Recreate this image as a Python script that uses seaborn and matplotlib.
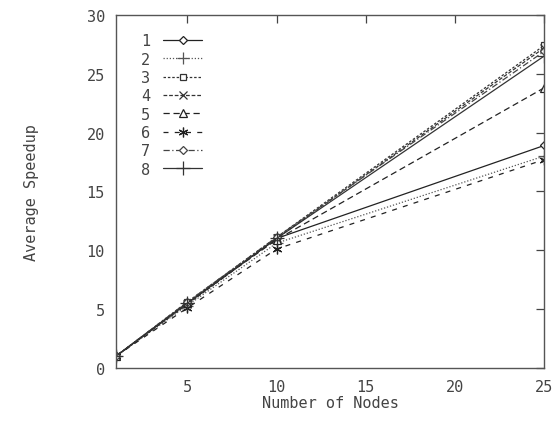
import matplotlib
matplotlib.use("Agg")
import matplotlib.pyplot as plt
import seaborn as sns
import pandas as pd

nodes = [1, 5, 10, 25]
s1 = [1, 5.5, 11.0, 18.9]
s2 = [1, 5.3, 10.6, 18.0]
s3 = [1, 5.6, 11.1, 27.4]
s4 = [1, 5.4, 11.0, 27.2]
s5 = [1, 5.5, 10.9, 23.8]
s6 = [1, 5.1, 10.1, 17.7]
s7 = [1, 5.6, 11.1, 26.9]
s8 = [1, 5.5, 11.0, 26.5]
series = [s1, s2, s3, s4, s5, s6, s7, s8]
labels = ["1", "2", "3", "4", "5", "6", "7", "8"]
xticks = [5, 10, 15, 20, 25]
yticks = [0, 5, 10, 15, 20, 25, 30]

sns.set_style("white")
plt.rcParams['font.family'] = ['DejaVu Sans Mono']

styles = [
    dict(ls='-', marker='D', ms=4, mfc='white', color='#222222'),
    dict(ls=(0, (1, 1.5)), marker='+', ms=8, color='#555555'),
    dict(ls=(0, (2, 1.5)), marker='s', ms=5, mfc='white', color='#333333'),
    dict(ls=(0, (3, 1.5)), marker='x', ms=6, color='#333333'),
    dict(ls=(0, (5, 3)), marker='^', ms=6, mfc='white', color='#222222'),
    dict(ls=(0, (4, 5)), marker=(6, 2, 0), ms=7, color='#222222'),
    dict(ls=(0, (5, 2, 1, 2)), marker='D', ms=4, mfc='white', color='#444444'),
    dict(ls='-', marker='+', ms=10, color='#333333'),
]

fig = plt.figure(figsize=(5.52, 4.27), dpi=100)
ax = fig.add_axes([0.210, 0.136, 0.776, 0.827])

for vals, lab, st in zip(series, labels, styles):
    df = pd.DataFrame({"x": nodes, "y": vals})
    sns.lineplot(data=df, x="x", y="y", ax=ax, label=lab, lw=0.9,
                 linestyle=st['ls'], marker=st['marker'], markersize=st['ms'],
                 markerfacecolor=st.get('mfc', st['color']),
                 markeredgecolor=st['color'], markeredgewidth=0.9,
                 color=st['color'])

ax.set_xlim(1, 25)
ax.set_ylim(0, 30)
ax.set_xticks(xticks)
ax.set_yticks(yticks)
ax.tick_params(direction='in', length=6, width=0.9, top=True, right=True,
               labelsize=11, colors='#444444', pad=8)
for sp in ax.spines.values():
    sp.set_color('#555555')
    sp.set_linewidth(1.0)
    sp.set_visible(True)

ax.set_xlabel("Number of Nodes", fontsize=11, color='#444444', labelpad=1)
ax.set_ylabel("Average Speedup", fontsize=11, color='#444444', labelpad=34)

leg = ax.legend(loc='upper left', bbox_to_anchor=(0.045, 0.965), frameon=False,
                markerfirst=False, fontsize=11, handlelength=2.6,
                labelspacing=0.22, handletextpad=0.8, borderaxespad=0)
for t in leg.get_texts():
    t.set_color('#444444')

fig.savefig("out.png", dpi=100)
